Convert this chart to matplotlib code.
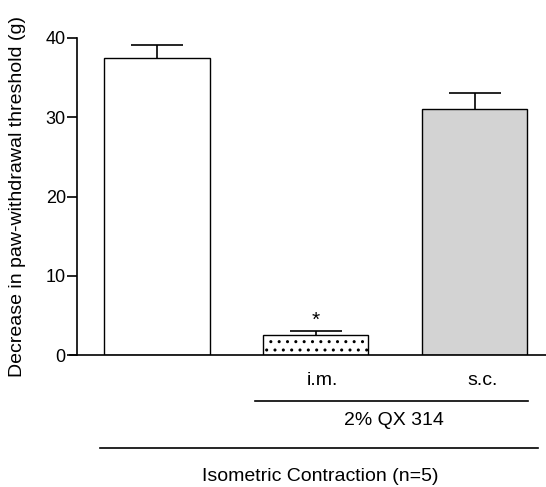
import matplotlib
matplotlib.use('Agg')
import matplotlib.pyplot as plt

plt.rcParams['font.family'] = ['Liberation Sans', 'DejaVu Sans']
plt.rcParams['hatch.linewidth'] = 1.0

groups = ['', 'i.m.', 's.c.']
means = [37.5, 2.5, 31.0]
errors = [1.6, 0.5, 2.0]
colors = ['white', 'white', '#d3d3d3']
hatches = ['', '..', '']
ylabel = 'Decrease in paw-withdrawal threshold (g)'
drug_label = '2% QX 314'
group_label = 'Isometric Contraction (n=5)'

fig = plt.figure(figsize=(5.46, 4.87), dpi=100)
ax = fig.add_axes([0.128, 0.271, 0.872, 0.651])

x = range(len(means))
for i in x:
    ax.bar(i, means[i], width=0.665, color=colors[i], edgecolor='black',
           linewidth=1.0, hatch=hatches[i], zorder=2)
eb = ax.errorbar(list(x), means, yerr=[[0, 0, 0], errors], fmt='none', ecolor='black',
                 elinewidth=1.2, capsize=19, capthick=1.2, zorder=3)
# only the upper cap is drawn in the original
eb[1][0].set_visible(False)

# significance mark
ax.text(1, means[1] + errors[1] + 0.2, '*', ha='center', va='bottom', fontsize=15)

ax.set_xlim(-0.547, 2.45)
ax.set_ylim(0, 40)
ax.set_yticks([0, 10, 20, 30, 40])
ax.tick_params(axis='y', direction='out', length=7, width=1.2, labelsize=13, pad=1)
ax.set_xticks([])
ax.spines['top'].set_visible(False)
ax.spines['right'].set_visible(False)
ax.spines['left'].set_position(('data', -0.503))
ax.spines['left'].set_linewidth(1.2)
ax.spines['bottom'].set_linewidth(1.2)
ax.set_ylabel(ylabel, fontsize=14)
ax.yaxis.set_label_coords(-0.092, 0.5)

tr = ax.get_xaxis_transform()
ax.text(1.04, -0.079, groups[1], transform=tr, ha='center', va='center', fontsize=14)
ax.text(2.054, -0.079, groups[2], transform=tr, ha='center', va='center', fontsize=14)
ax.plot([0.618, 2.337], [-0.145, -0.145], transform=tr, color='black', lw=1.2, clip_on=False)
ax.text(1.495, -0.205, drug_label, transform=tr, ha='center', va='center', fontsize=14)
ax.plot([-0.358, 2.40], [-0.293, -0.293], transform=tr, color='black', lw=1.2, clip_on=False)
ax.text(1.028, -0.382, group_label, transform=tr, ha='center', va='center', fontsize=14)

fig.savefig('out.png', dpi=100)
